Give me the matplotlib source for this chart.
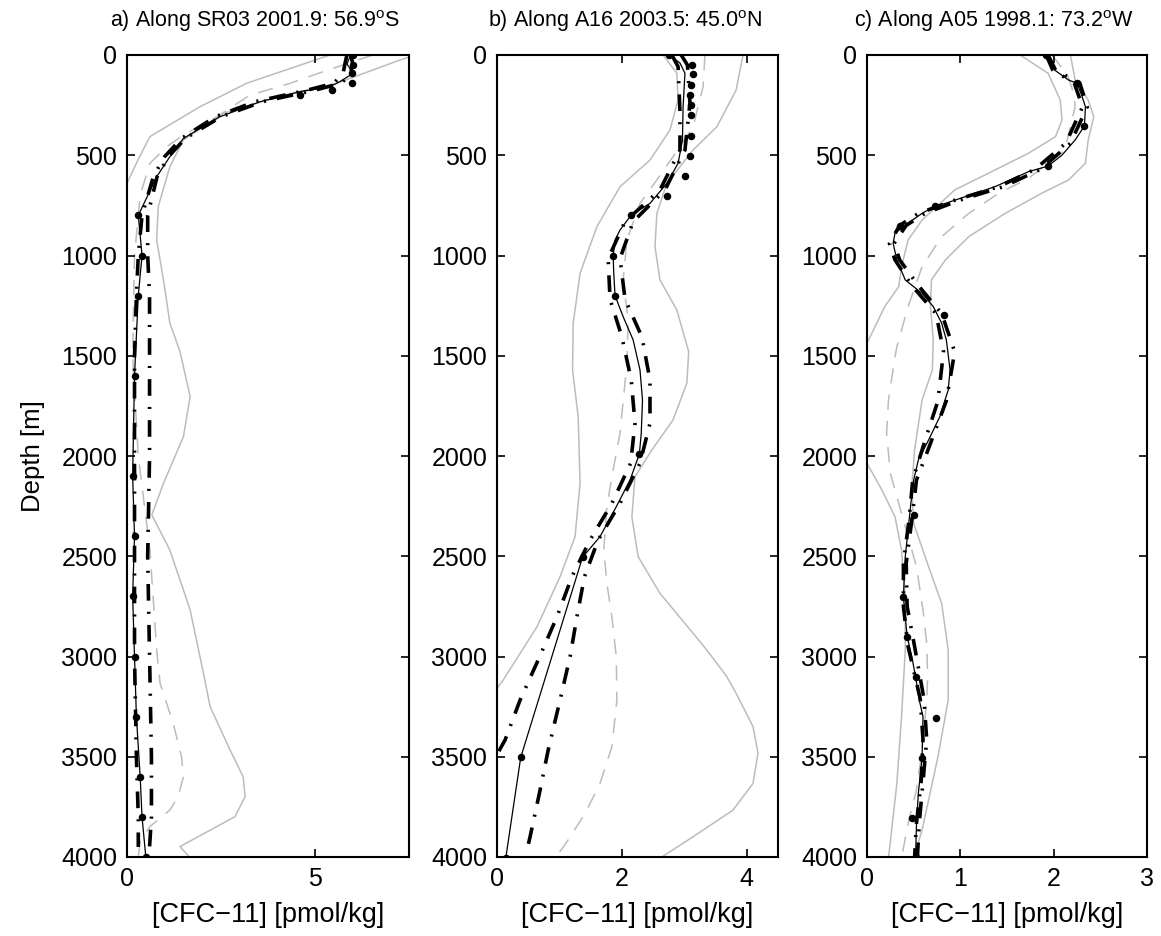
import matplotlib
matplotlib.use('Agg')
import matplotlib.pyplot as plt

plt.rcParams['font.family'] = ['Liberation Sans', 'DejaVu Sans']
plt.rcParams['mathtext.fontset'] = 'custom'
plt.rcParams['mathtext.rm'] = 'Liberation Sans'
plt.rcParams['lines.scale_dashes'] = False

titles = ['a) Along SR03 2001.9: 56.9$^{\\rm o}$S',
          'b) Along A16 2003.5: 45.0$^{\\rm o}$N',
          'c) Along A05 1998.1: 73.2$^{\\rm o}$W']
xlabel = '[CFC\u221211] [pmol/kg]'
ylabel = 'Depth [m]'
depth_ticks = [0, 500, 1000, 1500, 2000, 2500, 3000, 3500, 4000]
a_xticks = [0, 5]
b_xticks = [0, 2, 4]
c_xticks = [0, 1, 2, 3]
xlims = [7.5, 4.5, 3.0]

# ---------------- panel a ----------------
a_obs_d = [0, 50, 91, 141, 175, 199, 800, 1000, 1200, 1600, 2100, 2400, 2700, 3000, 3300, 3600, 3800, 4000]
a_obs_v = [6.02, 6.02, 5.98, 5.98, 5.44, 4.60, 0.30, 0.40, 0.30, 0.20, 0.15, 0.20, 0.15, 0.20, 0.25, 0.35, 0.40, 0.50]
a_sol_d = [0, 8, 45, 91, 133, 158, 183, 233, 308, 416, 507, 607, 800, 1000, 1200, 1600, 2100, 2400, 2700, 3000, 3300, 3600, 3800, 4000]
a_sol_v = [6.02, 5.93, 5.85, 6.02, 5.66, 5.40, 4.60, 3.54, 2.47, 1.50, 1.14, 0.79, 0.30, 0.40, 0.30, 0.20, 0.15, 0.20, 0.15, 0.20, 0.25, 0.35, 0.40, 0.50]
a_thk_d = [0, 40, 90, 141, 175, 233, 308, 416, 507, 607, 800, 1000, 1200, 1500, 2000, 2500, 3000, 3500, 3800, 3950]
a_thk1_v = [5.85, 5.80, 5.75, 5.50, 4.80, 3.40, 2.35, 1.45, 1.00, 0.70, 0.40, 0.30, 0.25, 0.20, 0.20, 0.20, 0.20, 0.25, 0.30, 0.30]
a_thk2_v = [5.95, 6.00, 5.95, 5.70, 5.00, 3.60, 2.50, 1.55, 1.10, 0.80, 0.55, 0.55, 0.60, 0.60, 0.60, 0.55, 0.60, 0.65, 0.65, 0.60]
a_gr_d = [0, 11, 25, 141, 200, 291, 424, 557, 757, 923, 1122, 1337, 1480, 1704, 1904, 2136, 2294, 2469, 2768, 3117, 3250, 3466, 3600, 3699, 3799, 3948, 4005]
a_gr_v = [7.8, 7.5, 7.26, 5.58, 4.16, 2.56, 1.50, 1.14, 0.83, 0.79, 0.97, 1.14, 1.41, 1.68, 1.50, 0.97, 0.66, 1.14, 1.68, 2.07, 2.21, 2.74, 3.09, 3.14, 2.87, 1.41, 1.68]
a_gl_d = [0, 141, 258, 407, 520, 640, 800]
a_gl_v = [5.40, 3.18, 1.94, 0.61, 0.30, 0.00, -0.30]
a_gd_d = [0, 83, 141, 200, 308, 399, 457, 540, 700, 1000, 1500, 2000, 2470, 2968, 3134, 3334, 3500, 3600, 3699, 3766, 3848, 3920, 4000]
a_gd_v = [6.54, 5.22, 4.34, 3.27, 2.39, 1.50, 1.06, 0.61, 0.35, 0.20, 0.15, 0.30, 0.61, 0.79, 0.88, 1.23, 1.45, 1.50, 1.36, 1.14, 0.61, 0.35, 0.30]

# ---------------- panel b ----------------
b_obs_d = [0, 50, 96, 150, 200, 249, 299, 402, 504, 604, 703, 798, 1002, 1200, 1990, 2505, 3503, 4006]
b_obs_v = [2.76, 3.12, 3.14, 3.10, 3.09, 3.10, 3.10, 3.10, 3.09, 3.01, 2.72, 2.15, 1.86, 1.89, 2.28, 1.37, 0.38, 0.14]
b_sol_d = [0, 40, 91, 258, 424, 540, 640, 740, 798, 873, 923, 1002, 1089, 1200, 1305, 1421, 1571, 1721, 1887, 1990, 2120, 2253, 2402, 2505, 3503, 4006]
b_sol_v = [2.76, 2.93, 3.01, 2.98, 2.97, 2.90, 2.72, 2.45, 2.15, 1.97, 1.89, 1.86, 1.87, 1.89, 2.02, 2.18, 2.29, 2.33, 2.31, 2.28, 2.13, 1.91, 1.65, 1.37, 0.38, 0.14]
b_thk1_d = [0, 58, 280, 474, 673, 831, 1015, 1217, 1406, 1621, 1837, 2036, 2236, 2419, 2602, 2802, 3017, 3217, 3416, 3500]
b_thk1_v = [2.80, 2.90, 2.93, 2.93, 2.61, 2.05, 1.78, 1.81, 2.00, 2.15, 2.21, 2.14, 1.84, 1.49, 1.20, 0.96, 0.66, 0.37, 0.13, -0.02]
b_thk2_d = [0, 50, 240, 474, 673, 831, 1015, 1217, 1406, 1621, 1837, 2036, 2236, 2419, 2602, 2802, 3001, 3217, 3466, 3666, 3899, 3965]
b_thk2_v = [2.95, 3.05, 3.09, 3.01, 2.69, 2.18, 1.97, 2.05, 2.32, 2.45, 2.45, 2.29, 1.97, 1.62, 1.40, 1.28, 1.17, 1.01, 0.82, 0.69, 0.53, 0.48]
b_gr_d = [0, 175, 358, 474, 640, 790, 956, 1122, 1272, 1480, 1637, 1820, 1970, 2103, 2303, 2502, 2685, 2884, 2968, 3100, 3184, 3350, 3483, 3633, 3766, 3899, 4006]
b_gr_v = [3.94, 3.83, 3.52, 3.14, 2.72, 2.56, 2.53, 2.61, 2.88, 3.07, 3.04, 2.82, 2.48, 2.21, 2.16, 2.26, 2.61, 3.14, 3.36, 3.68, 3.83, 4.10, 4.18, 4.10, 3.78, 3.14, 2.61]
b_gl_d = [0, 91, 224, 374, 524, 657, 856, 1089, 1338, 1571, 1804, 2136, 2402, 2602, 2852, 3117, 3159, 3300]
b_gl_v = [2.66, 2.88, 2.90, 2.77, 2.45, 1.97, 1.60, 1.33, 1.22, 1.21, 1.30, 1.33, 1.25, 1.01, 0.64, 0.10, 0.00, -0.30]
b_gd_d = [0, 158, 358, 507, 623, 740, 923, 1122, 1322, 1538, 1887, 2103, 2253, 2469, 2635, 2802, 3001, 3217, 3450, 3633, 3783, 3924, 4006]
b_gd_v = [3.33, 3.30, 3.14, 2.82, 2.56, 2.29, 2.08, 2.02, 2.10, 2.08, 1.97, 1.84, 1.76, 1.71, 1.76, 1.84, 1.91, 1.92, 1.84, 1.65, 1.41, 1.12, 0.93]

# ---------------- panel c ----------------
c_obs_d = [0, 141, 354, 554, 753, 851, 1297, 2294, 2702, 2901, 3100, 3305, 3505, 3807, 3998]
c_obs_v = [1.92, 2.25, 2.33, 1.94, 0.73, 0.35, 0.82, 0.50, 0.39, 0.43, 0.52, 0.74, 0.59, 0.48, 0.52]
c_sol_d = [0, 75, 125, 141, 200, 258, 354, 424, 499, 554, 582, 657, 707, 740, 753, 790, 848, 889, 939, 1022, 1122, 1189, 1255, 1338, 1421, 1571, 1671, 1804, 1920, 2020, 2120, 2236, 2369, 2502, 2702, 2901, 3001, 3100, 3217, 3300, 3505, 3683, 3840, 4000]
c_sol_v = [1.92, 2.01, 2.16, 2.25, 2.30, 2.34, 2.33, 2.23, 2.09, 1.94, 1.73, 1.37, 1.05, 0.84, 0.73, 0.59, 0.41, 0.30, 0.28, 0.32, 0.41, 0.59, 0.71, 0.80, 0.85, 0.89, 0.87, 0.78, 0.66, 0.55, 0.50, 0.47, 0.44, 0.41, 0.39, 0.43, 0.48, 0.52, 0.56, 0.60, 0.59, 0.55, 0.53, 0.52]
c_thk_d = [0, 75, 140, 258, 440, 570, 657, 723, 790, 850, 940, 1022, 1150, 1290, 1480, 1725, 1925, 2120, 2320, 2535, 2750, 2950, 3210, 3415, 3625, 3830, 4000]
c_thk1_v = [1.92, 1.99, 2.22, 2.31, 2.13, 1.80, 1.41, 0.95, 0.55, 0.35, 0.24, 0.30, 0.48, 0.74, 0.82, 0.76, 0.62, 0.49, 0.45, 0.39, 0.39, 0.44, 0.57, 0.60, 0.58, 0.53, 0.51]
c_thk2_v = [1.94, 2.02, 2.28, 2.36, 2.18, 1.86, 1.46, 1.00, 0.62, 0.42, 0.29, 0.35, 0.55, 0.80, 0.94, 0.85, 0.69, 0.53, 0.48, 0.42, 0.43, 0.51, 0.61, 0.64, 0.60, 0.56, 0.54]
c_gr_d = [0, 125, 224, 308, 424, 540, 623, 690, 790, 906, 1022, 1122, 1255, 1421, 1571, 1721, 1970, 2150, 2336, 2552, 2735, 2968, 3217, 3500, 3716, 3865, 4006]
c_gr_v = [2.18, 2.23, 2.37, 2.43, 2.37, 2.34, 2.16, 1.87, 1.48, 1.09, 0.84, 0.69, 0.68, 0.71, 0.70, 0.59, 0.51, 0.48, 0.50, 0.66, 0.80, 0.87, 0.87, 0.76, 0.66, 0.59, 0.50]
c_gl_d = [0, 91, 224, 324, 407, 490, 590, 673, 823, 923, 1056, 1155, 1255, 1438, 1700, 2036, 2170, 2303, 2469, 2718, 2968, 3300, 3633, 4006]
c_gl_v = [1.64, 1.94, 2.07, 2.09, 2.02, 1.73, 1.30, 0.94, 0.59, 0.44, 0.37, 0.34, 0.19, 0.00, -0.20, 0.00, 0.16, 0.30, 0.37, 0.41, 0.41, 0.37, 0.32, 0.23]
c_gd_d = [0, 100, 200, 258, 474, 615, 690, 790, 906, 1056, 1255, 1455, 1505, 1721, 1887, 2086, 2236, 2402, 2552, 2768, 2934, 3100, 3217, 3466, 3666, 3832, 4006]
c_gd_v = [1.98, 2.15, 2.22, 2.23, 2.12, 1.73, 1.41, 1.09, 0.80, 0.59, 0.44, 0.32, 0.30, 0.23, 0.21, 0.25, 0.34, 0.44, 0.53, 0.60, 0.64, 0.65, 0.64, 0.59, 0.53, 0.44, 0.37]

panels = [
    dict(obs=(a_obs_v, a_obs_d), sol=(a_sol_v, a_sol_d),
         thk=[(a_thk1_v, a_thk_d), (a_thk2_v, a_thk_d)],
         gray=[(a_gr_v, a_gr_d), (a_gl_v, a_gl_d)], gdash=(a_gd_v, a_gd_d), xt=a_xticks),
    dict(obs=(b_obs_v, b_obs_d), sol=(b_sol_v, b_sol_d),
         thk=[(b_thk1_v, b_thk1_d), (b_thk2_v, b_thk2_d)],
         gray=[(b_gr_v, b_gr_d), (b_gl_v, b_gl_d)], gdash=(b_gd_v, b_gd_d), xt=b_xticks),
    dict(obs=(c_obs_v, c_obs_d), sol=(c_sol_v, c_sol_d),
         thk=[(c_thk1_v, c_thk_d), (c_thk2_v, c_thk_d)],
         gray=[(c_gr_v, c_gr_d), (c_gl_v, c_gl_d)], gdash=(c_gd_v, c_gd_d), xt=c_xticks),
]

W, H = 1161, 936
fig = plt.figure(figsize=(W / 100, H / 100), dpi=100)
ax_px = [(127, 282), (497, 281), (867, 280)]
top_px, bot_px = 55, 857
gray = '#bcbcbc'
fs = 18

for i, (p, (l, w)) in enumerate(zip(panels, ax_px)):
    ax = fig.add_axes([l / W, 1 - bot_px / H, w / W, (bot_px - top_px) / H])
    for gv, gd in p['gray']:
        ax.plot(gv, gd, color=gray, lw=1.1, zorder=1)
    ax.plot(*p['gdash'], color=gray, lw=1.1, dashes=(11, 8), zorder=1)
    for tv, td in p['thk']:
        ax.plot(tv, td, color='black', lw=2.6, dashes=(12, 8, 1.5, 8),
                solid_capstyle='butt', dash_capstyle='butt', zorder=3)
    ax.plot(*p['sol'], color='black', lw=0.9, zorder=4)
    ax.plot(*p['obs'], 'o', color='black', ms=4.4, zorder=5)
    ax.set_xlim(0, xlims[i])
    ax.set_ylim(4000, 0)
    ax.set_xticks(p['xt'])
    ax.set_yticks(depth_ticks)
    ax.tick_params(direction='in', length=6, width=1.2, top=True, right=True,
                   labelsize=fs, pad=7)
    for s in ax.spines.values():
        s.set_linewidth(1.5)
    ax.set_xlabel(xlabel, fontsize=19.5, labelpad=8)
    if i == 0:
        ax.set_ylabel(ylabel, fontsize=18.5, labelpad=12)
    ax.text(0.455, 1.0 + 34 / (bot_px - top_px), titles[i], transform=ax.transAxes,
            ha='center', va='center', fontsize=15.5)

fig.savefig('out.png', dpi=100)
